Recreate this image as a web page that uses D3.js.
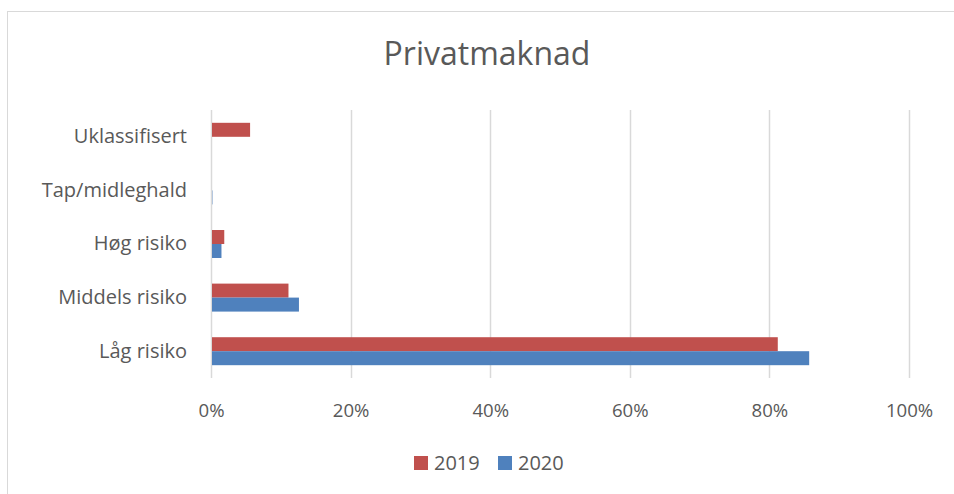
<!DOCTYPE html>
<html><head><meta charset="utf-8">
<script src="https://cdn.jsdelivr.net/npm/d3@7"></script>
<style>body{margin:0;background:#fff}svg{display:block}text{font-family:"Open Sans",sans-serif;fill:#595959}</style>
</head><body>
<script>
const categories = ["Uklassifisert","Tap/midleghald","Høg risiko","Middels risiko","Låg risiko"];
const series = ["2019","2020"];
const values2019 = [5.6, 0, 1.9, 11.1, 81.2];
const values2020 = [0, 0.2, 1.5, 12.6, 85.7];
const ticks = [0,20,40,60,80,100];
const colors = ["#C0504D","#4F81BD"];

const W=954,H=494;
const svg=d3.select("body").append("svg").attr("width",W).attr("height",H);
svg.append("rect").attr("x",7.5).attr("y",11.5).attr("width",W).attr("height",H).attr("fill","none").attr("stroke","#d9d9d9");

const m={l:211,r:909,t:110,b:378};
const x=d3.scaleLinear().domain([0,100]).range([m.l,m.r]);
const y=d3.scaleBand().domain(categories).range([m.t,m.b]).paddingInner(0.478).paddingOuter(0.239);
const ys=d3.scaleBand().domain(series).range([0,y.bandwidth()]);

svg.append("text").attr("x",487).attr("y",65).attr("text-anchor","middle").attr("font-size",32).text("Privatmaknad");

const g=svg.append("g");
g.selectAll("line.grid").data(ticks).join("line").attr("class","grid")
 .attr("x1",d=>Math.round(x(d))+0.5).attr("x2",d=>Math.round(x(d))+0.5).attr("y1",m.t).attr("y2",m.b)
 .attr("stroke","#d9d9d9").attr("stroke-width",1.5);

const data=[values2019,values2020];
series.forEach((s,i)=>{
  g.selectAll("rect.s"+i).data(categories).join("rect").attr("class","s"+i)
   .attr("x",x(0)+1).attr("y",c=>y(c)+ys(s)).attr("height",ys.bandwidth())
   .attr("width",(c,j)=>Math.max(0,x(data[i][j])-x(0)-1)).attr("fill",colors[i]);
});

const xa=d3.axisBottom(x).tickValues(ticks).tickFormat(d=>d+"%").tickSize(0);
const ax=svg.append("g").attr("transform",`translate(0,${m.b})`).call(xa);
ax.select(".domain").remove();
ax.selectAll("text").attr("font-size",18.6).attr("dy",0).attr("y",39).style("fill","#595959").style("font-family","'Open Sans',sans-serif");

const ya=d3.axisLeft(y).tickSize(0).tickPadding(24);
const ay=svg.append("g").attr("transform",`translate(${m.l},0)`).call(ya);
ay.select(".domain").remove();
ay.selectAll("text").attr("font-size",20).style("fill","#595959").style("font-family","'Open Sans',sans-serif");

const leg=svg.append("g");
const lx=[414,498];
series.forEach((s,i)=>{
  leg.append("rect").attr("x",lx[i]).attr("y",456).attr("width",14).attr("height",14).attr("fill",colors[i]);
  leg.append("text").attr("x",lx[i]+20).attr("y",470).attr("font-size",20).text(s);
});
</script>
</body></html>
